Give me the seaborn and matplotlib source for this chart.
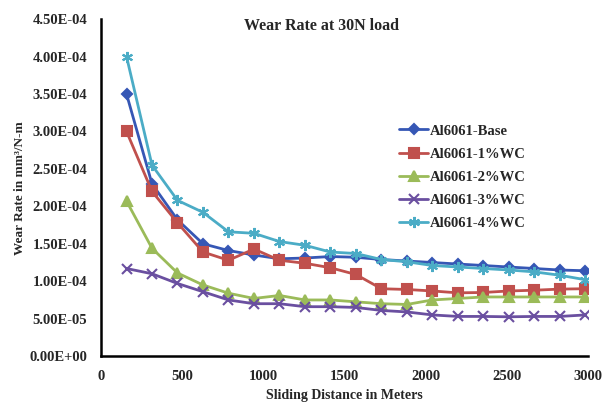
import numpy as np
import pandas as pd
import matplotlib
matplotlib.use("Agg")
import matplotlib.pyplot as plt
import seaborn as sns
from matplotlib.ticker import FuncFormatter

# ---- data ----
distance = [157, 314, 471, 628, 785, 942, 1099, 1256, 1413, 1570,
            1727, 1884, 2041, 2198, 2355, 2512, 2669, 2826, 2983]
base = [35.0, 23.0, 18.2, 15.0, 14.1, 13.5, 13.0, 13.1, 13.3, 13.2,
        12.9, 12.7, 12.5, 12.3, 12.1, 11.9, 11.7, 11.5, 11.4]
wc1 = [30.0, 22.0, 17.8, 13.9, 12.8, 14.3, 12.8, 12.4, 11.8, 10.9,
       9.0, 8.9, 8.7, 8.45, 8.5, 8.7, 8.8, 8.95, 9.0]
wc2 = [20.7, 14.4, 11.1, 9.5, 8.4, 7.7, 8.1, 7.5, 7.5, 7.25,
       7.0, 6.9, 7.5, 7.7, 7.9, 7.9, 7.9, 7.9, 7.9]
wc3 = [11.7, 11.0, 9.7, 8.6, 7.5, 7.0, 7.0, 6.6, 6.6, 6.5,
       6.1, 5.9, 5.5, 5.3, 5.3, 5.25, 5.3, 5.3, 5.5]
wc4 = [40.0, 25.5, 20.8, 19.2, 16.6, 16.4, 15.3, 14.8, 13.9, 13.7,
       12.9, 12.6, 12.1, 11.9, 11.7, 11.5, 11.25, 10.8, 10.2]
series_names = ["Al6061-Base", "Al6061-1%WC", "Al6061-2%WC", "Al6061-3%WC", "Al6061-4%WC"]
scale = 1e-5

colors = ["#3657B5", "#C0504D", "#9BBB59", "#6A4FA0", "#4BACC6"]
markers = ["D", "s", "^", "x", (6, 2, 0)]
msizes = [5.5, 7, 7, 7, 8]

sns.set_style("white")
plt.rcParams["font.family"] = ["Liberation Serif", "DejaVu Serif"]
plt.rcParams["font.weight"] = "bold"

fig = plt.figure(figsize=(6.05, 4.07), dpi=100)
ax = fig.add_axes([0.167, 0.125, 0.805, 0.828])

for name, vals, c, m, ms in zip(series_names, [base, wc1, wc2, wc3, wc4], colors, markers, msizes):
    d = pd.DataFrame({"Distance": distance, "Rate": np.array(vals) * scale})
    sns.lineplot(data=d, x="Distance", y="Rate", color=c, marker=m, markersize=ms,
                 markeredgecolor=c, markerfacecolor=c, markeredgewidth=1.5,
                 linewidth=2.0, label=name, ax=ax)

ax.set_xlim(0, 3000)
ax.set_ylim(0, 4.5e-4)
ax.set_xticks(np.arange(0, 3001, 500))
ax.set_yticks(np.arange(0, 4.51e-4, 5e-5))
ax.yaxis.set_major_formatter(FuncFormatter(lambda v, p: ("%.2E" % v)))

for s in ["top", "right"]:
    ax.spines[s].set_visible(False)
for s in ["left", "bottom"]:
    ax.spines[s].set_color("black")
    ax.spines[s].set_linewidth(1.8)

ax.tick_params(axis="both", direction="out", length=4, width=1.5, color="black",
               labelsize=10.5, pad=6)
for lab in ax.get_xticklabels() + ax.get_yticklabels():
    lab.set_fontweight("bold")

ax.set_xlabel("Sliding Distance in Meters", fontsize=10, fontweight="bold", labelpad=4)
ax.set_ylabel("Wear Rate in mm³/N-m", fontsize=9.5, fontweight="bold", labelpad=2)

fig.text(0.532, 0.935, "Wear Rate at 30N load", ha="center", va="center",
         fontsize=11.5, fontweight="bold")

leg = ax.legend(loc="upper left", bbox_to_anchor=(0.6, 0.705), frameon=False,
                fontsize=10.5, handlelength=2.0, handletextpad=0.1,
                labelspacing=0.68, borderaxespad=0)
for t in leg.get_texts():
    t.set_fontweight("bold")

fig.savefig("out.png", dpi=100)
